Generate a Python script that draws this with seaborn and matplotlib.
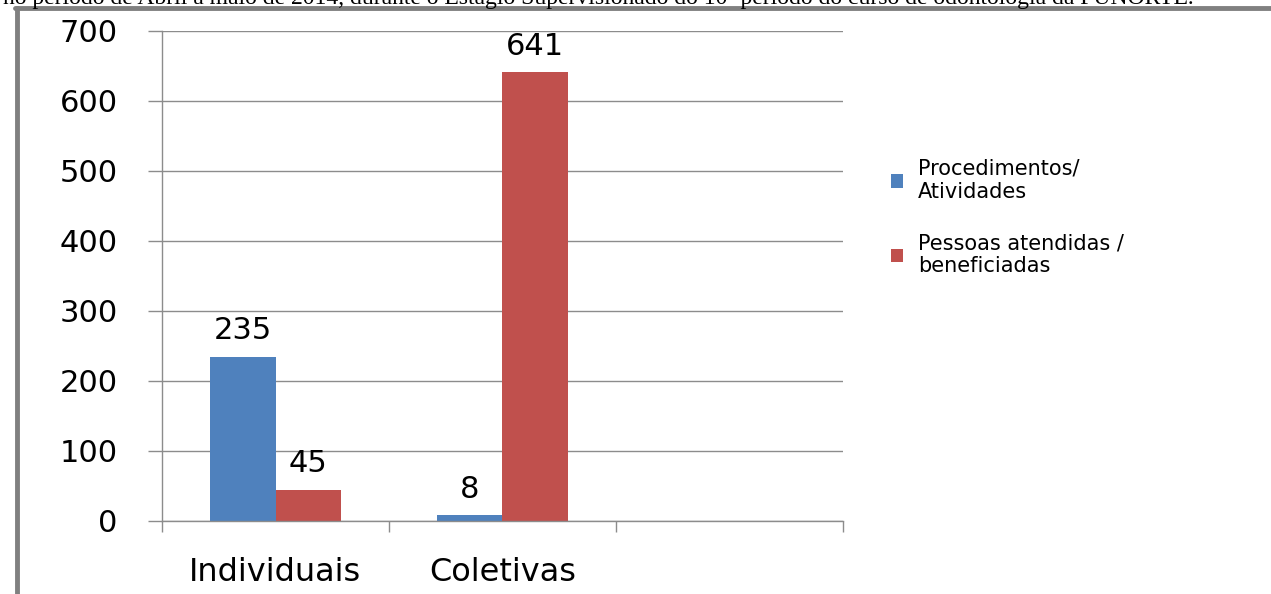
import numpy as np
import pandas as pd
import matplotlib
matplotlib.use("Agg")
import matplotlib.pyplot as plt
from matplotlib.lines import Line2D
import seaborn as sns

categorias = ["Individuais", "Coletivas"]
series = ["Procedimentos/\nAtividades", "Pessoas atendidas /\nbeneficiadas"]
procedimentos = [235, 8]
pessoas = [45, 641]
cores = ["#4F81BD", "#C0504D"]
legenda_texto = "no período de Abril a maio de 2014, durante o Estágio Supervisionado do 10º período do curso de odontologia da FUNORTE."

df = pd.DataFrame({
    "categoria": categorias * 2,
    "serie": [series[0]] * 2 + [series[1]] * 2,
    "valor": procedimentos + pessoas,
})

sns.set_style("white")
plt.rcParams["font.family"] = ["DejaVu Sans"]
plt.rcParams["text.color"] = "black"
plt.rcParams["xtick.color"] = "black"
plt.rcParams["ytick.color"] = "black"

fig = plt.figure(figsize=(12.71, 5.94), dpi=100)
ax = fig.add_axes([162 / 1271, 1 - 521 / 594, (843 - 162) / 1271, (521 - 31) / 594])

sns.barplot(data=df, x="categoria", y="valor", hue="serie", order=categorias,
            hue_order=series, palette=cores, width=0.58, saturation=1,
            edgecolor="none", ax=ax, legend=True)

ax.set_xlim(-0.5, 2.5)
ax.set_ylim(0, 700)
ax.set_yticks(np.arange(0, 701, 100))
ax.grid(axis="y", color="#8c8c8c", linewidth=1)
ax.set_axisbelow(True)
ax.set_xlabel("")
ax.set_ylabel("")

for s in ["top", "right"]:
    ax.spines[s].set_visible(False)
for s in ["left", "bottom"]:
    ax.spines[s].set_color("#8c8c8c")
    ax.spines[s].set_linewidth(1)

ax.set_xticks([0, 1])
ax.set_xticklabels(categorias, fontsize=23)
ax.set_xticks([-0.5, 0.5, 1.5, 2.5], minor=True)
ax.tick_params(axis="x", which="major", bottom=True, length=0, pad=26)
ax.tick_params(axis="x", which="minor", bottom=True, length=8, color="#8c8c8c", width=1)
ax.tick_params(axis="y", left=True, length=10, color="#8c8c8c", width=1,
               labelsize=22, labelcolor="black", pad=22)

for cont in ax.containers:
    ax.bar_label(cont, fontsize=22, padding=8, color="black")

handles, labels = ax.get_legend_handles_labels()
ax.get_legend().remove()
fig.legend(handles, labels, loc="upper left", bbox_to_anchor=(872 / 1271, 1 - 140 / 594),
           frameon=False, fontsize=15, handlelength=0.6, handleheight=0.6,
           handletextpad=0.7, labelspacing=1.5)

# moldura e legenda cortada da página
fig.add_artist(Line2D([15 / 1271, 1], [1 - 7.5 / 594] * 2, color="#808080", linewidth=3.5))
fig.add_artist(Line2D([17 / 1271] * 2, [0, 1 - 7.5 / 594], color="#808080", linewidth=3.5))
fig.text(3 / 1271, 1 - 4 / 594, legenda_texto, fontsize=17, family="Liberation Serif",
         ha="left", va="baseline")

fig.savefig("out.png", dpi=100)
